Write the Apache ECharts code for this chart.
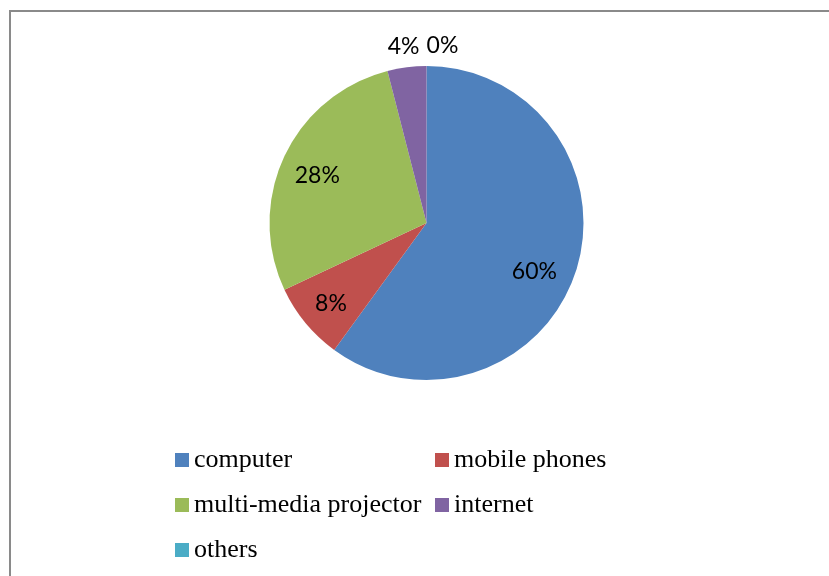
<!DOCTYPE html>
<html>
<head>
<meta charset="utf-8">
<script src="https://cdn.jsdelivr.net/npm/echarts@6/dist/echarts.min.js"></script>
<style>
  html, body { margin: 0; padding: 0; background: #fff; }
  #chart { width: 829px; height: 576px; }
</style>
</head>
<body>
<div id="chart"></div>
<script>
// Teaching aids used in class (share of responses)
const categories = ['computer', 'mobile phones', 'multi-media projector', 'internet', 'others'];
const shares = [60, 8, 28, 4, 0];
const colors = ['#4F81BD', '#C0504D', '#9BBB59', '#8064A2', '#4BACC6'];

// which slices carry their label on the sector, which above the pie
const insideLabel = [true, true, true, false, false];
// small nudges of each percentage label [dx, dy]
const labelNudge = [[-10, 10], [0, 2], [3, 5], [0, 5], [16, 6]];

const CX = 426.5, CY = 223, R = 157;

const pieData = categories.map((name, i) => ({
  name, value: shares[i], itemStyle: { color: colors[i] }
}));

const labelFont = { fontFamily: 'Lato', fontSize: 23, color: '#000' };

function labelRing(inner, outer, pick) {
  return {
    type: 'pie',
    silent: true,
    center: [CX, CY],
    radius: [inner, outer],
    startAngle: 90,
    itemStyle: { color: 'rgba(0,0,0,0)' },
    emphasis: { disabled: true },
    labelLine: { show: false },
    data: categories.map((name, i) => ({
      name,
      value: shares[i],
      itemStyle: { color: 'rgba(0,0,0,0)' },
      label: Object.assign(
        { show: pick(i), position: 'inside', formatter: '{d}%', offset: labelNudge[i] },
        labelFont
      )
    }))
  };
}

const legendText = { fontFamily: 'Liberation Serif', fontSize: 26, color: '#000', lineHeight: 30 };

const chart = echarts.init(document.getElementById('chart'), null, { renderer: 'canvas' });

chart.setOption({
  animation: false,
  color: colors,
  graphic: [{
    type: 'rect',
    silent: true,
    shape: { x: 10, y: 11, width: 900, height: 700 },
    style: { fill: 'none', stroke: '#8a8a8a', lineWidth: 2 }
  }],
  legend: [
    {
      data: [categories[0], categories[2], categories[4]],
      orient: 'vertical',
      left: 175,
      top: 445,
      padding: 0,
      icon: 'rect',
      itemWidth: 14,
      itemHeight: 14,
      itemGap: 15,
      selectedMode: false,
      textStyle: legendText
    },
    {
      data: [categories[1], categories[3]],
      orient: 'vertical',
      left: 435,
      top: 445,
      padding: 0,
      icon: 'rect',
      itemWidth: 14,
      itemHeight: 14,
      itemGap: 15,
      selectedMode: false,
      textStyle: legendText
    }
  ],
  series: [
    {
      type: 'pie',
      center: [CX, CY],
      radius: R,
      startAngle: 90,
      clockwise: true,
      label: { show: false },
      labelLine: { show: false },
      emphasis: { disabled: true },
      data: pieData
    },
    labelRing(85, R, i => insideLabel[i]),
    labelRing(160, 200, i => !insideLabel[i])
  ]
});
</script>
</body>
</html>
